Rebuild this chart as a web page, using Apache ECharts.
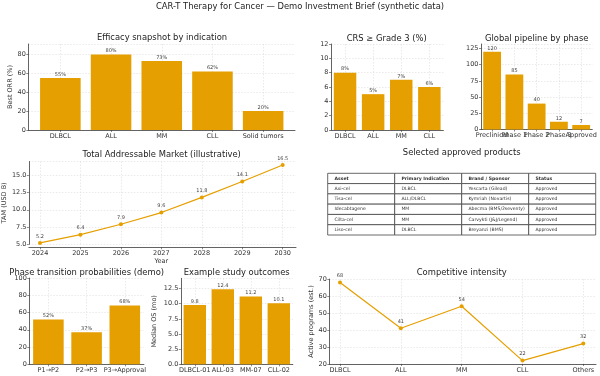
<!DOCTYPE html>
<html><head><meta charset="utf-8">
<script src="https://cdn.jsdelivr.net/npm/echarts@6/dist/echarts.min.js"></script>
<style>html,body{margin:0;padding:0;background:#fff}#c{width:600px;height:376px}</style>
</head><body><div id="c"></div>
<script>
// ---------------- data ----------------
const efficacyCats = ['DLBCL', 'ALL', 'MM', 'CLL', 'Solid tumors'];
const efficacyORR = [55, 80, 73, 62, 20];
const crsCats = ['DLBCL', 'ALL', 'MM', 'CLL'];
const crsGrade3 = [8, 5, 7, 6];
const pipelineCats = ['Preclinical', 'Phase 1', 'Phase 2', 'Phase 3', 'Approved'];
const pipelineCounts = [120, 85, 40, 12, 7];
const tamYears = ['2024', '2025', '2026', '2027', '2028', '2029', '2030'];
const tamValues = [5.2, 6.4, 7.9, 9.6, 11.8, 14.1, 16.5];
const tableHeader = ['Asset', 'Primary Indication', 'Brand / Sponsor', 'Status'];
const tableRows = [
  ['Axi-cel', 'DLBCL', 'Yescarta (Gilead)', 'Approved'],
  ['Tisa-cel', 'ALL/DLBCL', 'Kymriah (Novartis)', 'Approved'],
  ['Idecabtagene', 'MM', 'Abecma (BMS/2seventy)', 'Approved'],
  ['Cilta-cel', 'MM', 'Carvykti (J&J/Legend)', 'Approved'],
  ['Liso-cel', 'DLBCL', 'Breyanzi (BMS)', 'Approved']
];
const transitionCats = ['P1\u2192P2', 'P2\u2192P3', 'P3\u2192Approval'];
const transitionProb = [52, 37, 68];
const studyCats = ['DLBCL-01', 'ALL-03', 'MM-07', 'CLL-02'];
const studyOS = [9.8, 12.4, 11.2, 10.1];
const competitionCats = ['DLBCL', 'ALL', 'MM', 'CLL', 'Others'];
const competitionPrograms = [68, 41, 54, 22, 32];

// ---------------- styles ----------------
const FONT = 'DejaVu Sans';
const ORANGE = '#E69F00';
const SPINE = '#3c3c3c';
const TXT = '#333333';
const TICKFS = 6.5;
const GRIDLINE = { show: true, alignWithLabel: true, lineStyle: { color: '#dcdcdc', width: 0.6, type: [1.5, 1.5] } };

const grids = [], xAxes = [], yAxes = [], series = [];
function addGrid(l, t, w, h) { grids.push({ left: l, top: t, width: w, height: h }); return grids.length - 1; }
function valueY(g, min, max, interval, o) {
  o = o || {};
  yAxes.push({
    gridIndex: g, type: 'value', min: min, max: max, interval: interval,
    axisLine: { show: true, lineStyle: { color: SPINE, width: 0.8 } },
    axisTick: { show: true, length: 2, lineStyle: { color: SPINE, width: 0.6 } },
    axisLabel: { fontSize: TICKFS, color: TXT, fontFamily: FONT, margin: 2.5,
      showMaxLabel: o.showMax === undefined ? true : o.showMax,
      formatter: o.fmt || function (v) { return String(v); } },
    splitLine: GRIDLINE,
    name: o.name || '', nameLocation: 'middle', nameGap: o.nameGap || 15,
    nameTextStyle: { fontSize: TICKFS, color: TXT, fontFamily: FONT }
  });
  return yAxes.length - 1;
}
function hiddenY(g, min, max) { yAxes.push({ gridIndex: g, type: 'value', min: min, max: max, show: false }); return yAxes.length - 1; }
function frameX(g, offset) {
  xAxes.push({ gridIndex: g, type: 'value', min: 0, max: 1, offset: offset || 0,
    axisLine: { show: true, lineStyle: { color: SPINE, width: 0.8 } },
    axisTick: { show: false }, axisLabel: { show: false }, splitLine: { show: false } });
  return xAxes.length - 1;
}
function catX(g, data, o) {
  o = o || {};
  xAxes.push({ gridIndex: g, type: 'category', data: data,
    boundaryGap: o.bg === undefined ? true : o.bg, offset: o.offset || 0,
    axisLine: { show: o.line === undefined ? true : o.line, lineStyle: { color: SPINE, width: 0.8 } },
    axisTick: { show: true, alignWithLabel: true, length: 2, lineStyle: { color: SPINE, width: 0.6 } },
    axisLabel: { interval: 0, fontSize: TICKFS, color: TXT, fontFamily: FONT, margin: 2.5, hideOverlap: false },
    splitLine: GRIDLINE,
    name: o.name || '', nameLocation: 'middle', nameGap: o.nameGap || 10,
    nameTextStyle: { fontSize: TICKFS, color: TXT, fontFamily: FONT } });
  return xAxes.length - 1;
}
function barSeries(xi, yi, values, fmt) {
  series.push({ type: 'bar', xAxisIndex: xi, yAxisIndex: yi, data: values, barWidth: '80%',
    itemStyle: { color: ORANGE },
    label: { show: true, position: 'top', distance: 1, fontSize: 5, color: '#444', fontFamily: FONT, formatter: fmt } });
}
function lineSeries(xi, yi, values) {
  series.push({ type: 'line', xAxisIndex: xi, yAxisIndex: yi, data: values,
    symbol: 'circle', symbolSize: 4, lineStyle: { color: ORANGE, width: 1.2 }, itemStyle: { color: ORANGE },
    label: { show: true, position: 'top', distance: 2, fontSize: 5, color: '#444', fontFamily: FONT } });
}

// ---- Panel 1: Efficacy (outer frame + inner bars)
let g = addGrid(28.3, 44, 266.7, 86);
frameX(g); valueY(g, 0, 91, 20, { showMax: false, name: 'Best ORR (%)', nameGap: 13 });
g = addGrid(35, 44, 253.5, 86);
let xi = catX(g, efficacyCats, { line: false }); let yi = hiddenY(g, 0, 91);
barSeries(xi, yi, efficacyORR, '{c}%');

// ---- Panel 2: CRS
g = addGrid(331, 44, 112.4, 86);
xi = catX(g, crsCats); yi = valueY(g, 0, 12, 2);
barSeries(xi, yi, crsGrade3, '{c}%');

// ---- Panel 3: pipeline
g = addGrid(481, 44, 111.3, 85.5);
xi = catX(g, pipelineCats); yi = valueY(g, 0, 132, 25, { showMax: false });
barSeries(xi, yi, pipelineCounts, '{c}');

// ---- Panel 4: TAM line
g = addGrid(28.3, 161.5, 267.7, 82.8);
frameX(g, 3); valueY(g, 5, 17, 2.5, { showMax: false, fmt: function (v) { return v.toFixed(1); }, name: 'TAM (USD B)', nameGap: 18 });
g = addGrid(40, 161.5, 242.7, 82.8);
xi = catX(g, tamYears, { bg: false, line: false, offset: 3, name: 'Year', nameGap: 8.5 }); yi = hiddenY(g, 5, 17);
lineSeries(xi, yi, tamValues);

// ---- Panel 5: table (custom series on hidden value axes)
g = addGrid(327.7, 173.3, 268, 61.7);
xAxes.push({ gridIndex: g, type: 'value', min: 0, max: tableHeader.length, show: false });
yAxes.push({ gridIndex: g, type: 'value', min: 0, max: tableRows.length + 1, inverse: true, show: false });
const tableCells = [], tableTexts = [], tableBold = [];
[tableHeader].concat(tableRows).forEach(function (row, r) {
  row.forEach(function (txt, c) { tableCells.push([c, r]); tableTexts.push(txt); tableBold.push(r === 0); });
});
series.push({ type: 'custom', xAxisIndex: xAxes.length - 1, yAxisIndex: yAxes.length - 1, data: tableCells,
  renderItem: function (params, api) {
    const c = api.value(0), r = api.value(1);
    const p0 = api.coord([c, r]), p1 = api.coord([c + 1, r + 1]);
    const w = p1[0] - p0[0];
    return { type: 'group', children: [
      { type: 'rect', shape: { x: p0[0], y: p0[1], width: w, height: p1[1] - p0[1] },
        style: { fill: '#fff', stroke: '#444', lineWidth: 0.8 } },
      { type: 'text', style: { text: tableTexts[params.dataIndex], x: p0[0] + w * 0.1, y: (p0[1] + p1[1]) / 2,
        align: 'left', verticalAlign: 'middle', fontSize: 4.6, fontFamily: FONT,
        fontWeight: tableBold[params.dataIndex] ? 'bold' : 'normal', fill: '#333' } }
    ] };
  } });

// ---- Panel 6: phase transitions
g = addGrid(29.3, 278, 114.6, 86.3);
xi = catX(g, transitionCats); yi = valueY(g, 0, 100, 20);
barSeries(xi, yi, transitionProb, '{c}%');

// ---- Panel 7: study outcomes
g = addGrid(180.8, 278.3, 112, 86);
xi = catX(g, studyCats); yi = valueY(g, 0, 14.2, 2.5, { showMax: false, fmt: function (v) { return v.toFixed(1); }, name: 'Median OS (mo)', nameGap: 23 });
barSeries(xi, yi, studyOS, '{c}');

// ---- Panel 8: competitive intensity
g = addGrid(329.3, 279, 266.7, 85);
frameX(g); valueY(g, 20, 70, 10, { name: 'Active programs (est.)', nameGap: 13 });
g = addGrid(340, 279, 243.3, 85);
xi = catX(g, competitionCats, { bg: false, line: false }); yi = hiddenY(g, 20, 70);
lineSeries(xi, yi, competitionPrograms);

// ---- titles
function title(text, x, y) {
  return { type: 'text', x: x, y: y, silent: true,
    style: { text: text, fontSize: 8.4, fontFamily: FONT, fill: '#222', align: 'center', verticalAlign: 'middle',
      textAlign: 'center', textVerticalAlign: 'middle' } };
}
const graphics = [
  title('CAR-T Therapy for Cancer \u2014 Demo Investment Brief (synthetic data)', 300, 7),
  title('Efficacy snapshot by indication', 162, 38.3),
  title('CRS \u2265 Grade 3 (%)', 386.7, 38.7),
  title('Global pipeline by phase', 536.7, 38.7),
  title('Total Addressable Market (illustrative)', 161.7, 155),
  title('Selected approved products', 461.7, 153.3),
  title('Phase transition probabilities (demo)', 86.7, 273.3),
  title('Example study outcomes', 236.7, 273),
  title('Competitive intensity', 461.7, 272.7)
];

const chart = echarts.init(document.getElementById('c'), null, { renderer: 'canvas' });
chart.setOption({
  animation: false,
  backgroundColor: '#fff',
  grid: grids, xAxis: xAxes, yAxis: yAxes, series: series,
  graphic: { elements: graphics }
});
</script></body></html>
